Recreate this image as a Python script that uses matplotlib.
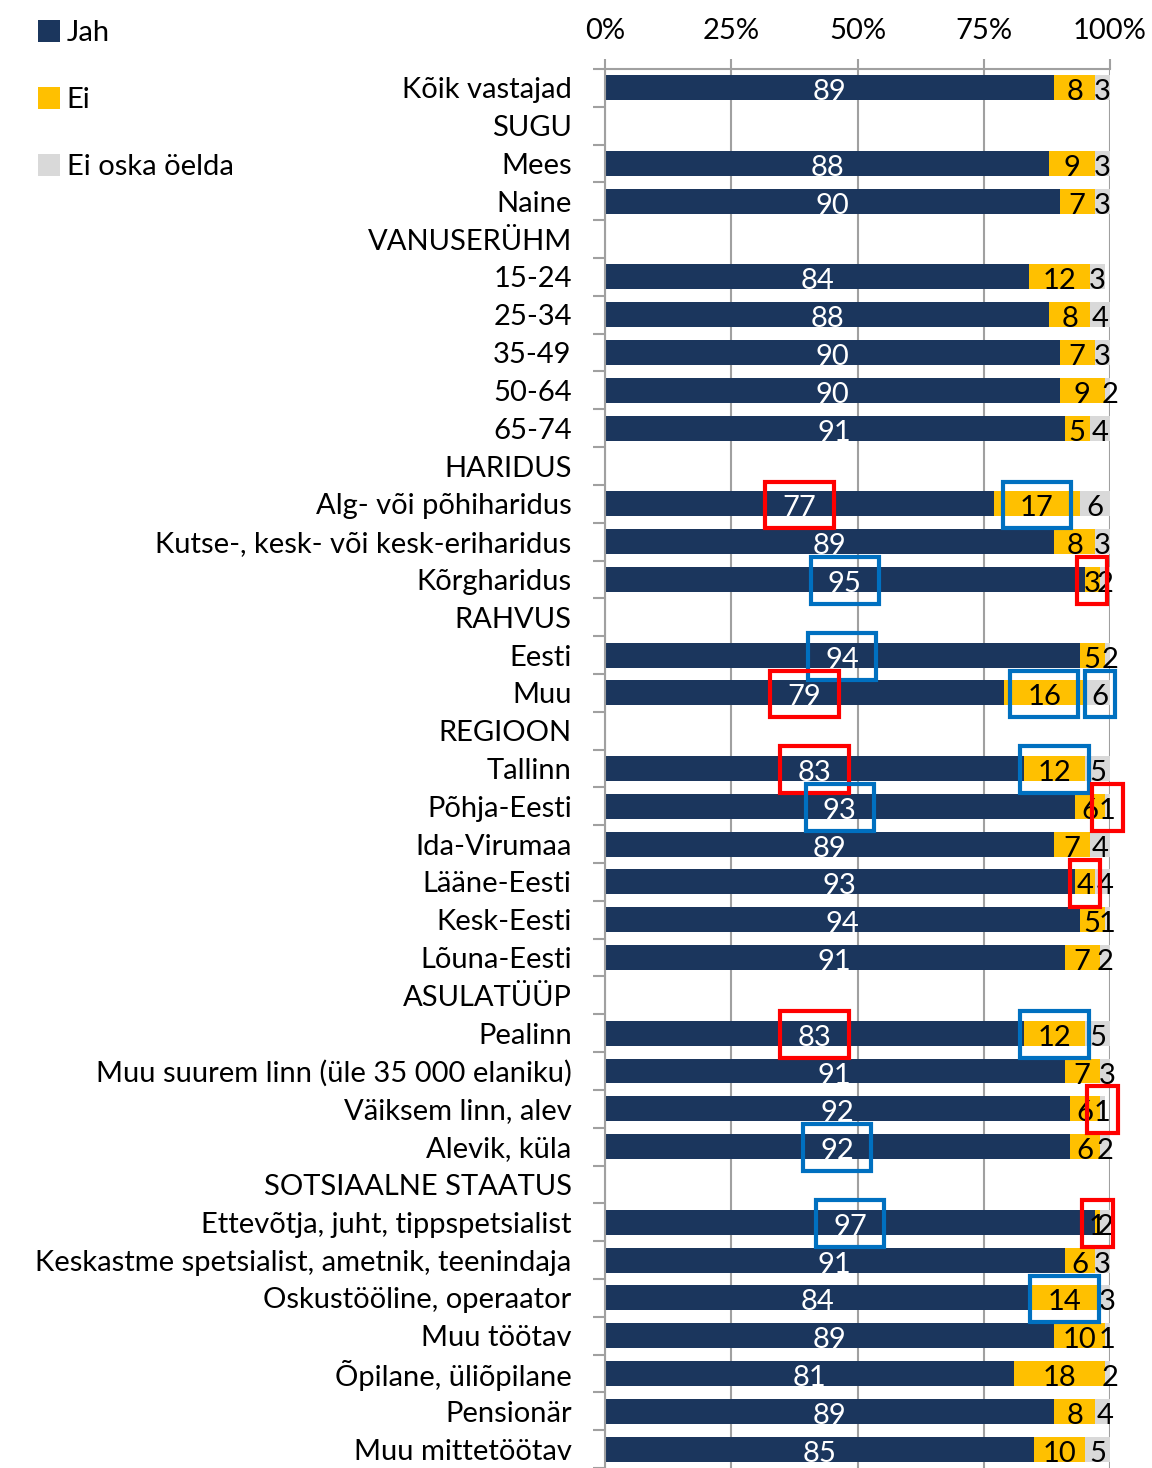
import numpy as np
import matplotlib.pyplot as plt
from matplotlib.patches import Rectangle

plt.rcParams['font.family'] = ['Lato', 'DejaVu Sans']

categories = [
    "Kõik vastajad", "SUGU", "Mees", "Naine", "VANUSERÜHM",
    "15-24", "25-34", "35-49", "50-64", "65-74", "HARIDUS",
    "Alg- või põhiharidus", "Kutse-, kesk- või kesk-eriharidus", "Kõrgharidus",
    "RAHVUS", "Eesti", "Muu", "REGIOON",
    "Tallinn", "Põhja-Eesti", "Ida-Virumaa", "Lääne-Eesti", "Kesk-Eesti", "Lõuna-Eesti",
    "ASULATÜÜP", "Pealinn", "Muu suurem linn (üle 35 000 elaniku)",
    "Väiksem linn, alev", "Alevik, küla", "SOTSIAALNE STAATUS",
    "Ettevõtja, juht, tippspetsialist", "Keskastme spetsialist, ametnik, teenindaja",
    "Oskustööline, operaator", "Muu töötav", "Õpilane, üliõpilane", "Pensionär",
    "Muu mittetöötav",
]
# None = group header row (no bar)
jah = [89, None, 88, 90, None, 84, 88, 90, 90, 91, None, 77, 89, 95, None, 94, 79, None,
       83, 93, 89, 93, 94, 91, None, 83, 91, 92, 92, None, 97, 91, 84, 89, 81, 89, 85]
ei = [8, None, 9, 7, None, 12, 8, 7, 9, 5, None, 17, 8, 3, None, 5, 16, None,
      12, 6, 7, 4, 5, 7, None, 12, 7, 6, 6, None, 1, 6, 14, 10, 18, 8, 10]
eos = [3, None, 3, 3, None, 3, 4, 3, 2, 4, None, 6, 3, 2, None, 2, 6, None,
       5, 1, 4, 4, 1, 2, None, 5, 3, 1, 2, None, 2, 3, 3, 1, 2, 4, 5]
series_names = ["Jah", "Ei", "Ei oska öelda"]

# significant differences: (category, series index, colour)
highlights = [
    ("Alg- või põhiharidus", 0, "red"), ("Alg- või põhiharidus", 1, "blue"),
    ("Kõrgharidus", 0, "blue"), ("Kõrgharidus", 1, "red"),
    ("Eesti", 0, "blue"),
    ("Muu", 0, "red"), ("Muu", 1, "blue"), ("Muu", 2, "blue"),
    ("Tallinn", 0, "red"), ("Tallinn", 1, "blue"),
    ("Põhja-Eesti", 0, "blue"), ("Põhja-Eesti", 2, "red"),
    ("Lääne-Eesti", 1, "red"),
    ("Pealinn", 0, "red"), ("Pealinn", 1, "blue"),
    ("Väiksem linn, alev", 2, "red"),
    ("Alevik, küla", 0, "blue"),
    ("Ettevõtja, juht, tippspetsialist", 0, "blue"),
    ("Ettevõtja, juht, tippspetsialist", 1, "red"),
    ("Oskustööline, operaator", 1, "blue"),
]

colors = ['#1B365D', '#FFC000', '#D9D9D9']
text_colors = ['white', 'black', 'black']
box_colors = {"red": "#FF0000", "blue": "#0070C0"}
FS = 21

W, H = 1152, 1468
fig = plt.figure(figsize=(W / 100, H / 100), dpi=100)
ax = fig.add_axes([605 / W, 0, 505 / W, (H - 69) / H])

idx = [i for i, v in enumerate(jah) if v is not None]
y = np.array(idx)
vals = [np.array([s[i] for i in idx], dtype=float) for s in (jah, ei, eos)]

left = np.zeros(len(idx))
bars = []
for k in range(3):
    b = ax.barh(y, vals[k], left=left, height=0.66, color=colors[k], label=series_names[k])
    bars.append(b)
    for yy, l, v in zip(y, left, vals[k]):
        ax.text(l + v / 2, yy + 0.12, f"{v:.0f}", ha='center', va='center',
                fontsize=FS, color=text_colors[k])
    left = left + vals[k]

# highlight boxes
for cat, k, c in highlights:
    i = categories.index(cat)
    seg = [jah[i], ei[i], eos[i]]
    cx = sum(seg[:k]) + seg[k] / 2
    w = 13.5 if seg[k] >= 10 else 6.0
    ax.add_patch(Rectangle((cx - w / 2, i + 0.03 - 0.62), w, 1.24, fill=False,
                           edgecolor=box_colors[c], linewidth=3, zorder=5, clip_on=False))

ax.set_xlim(0, 100)
ax.set_ylim(36.32, -0.5)
ax.set_yticks(np.arange(len(categories)))
ax.set_yticklabels(categories, fontsize=FS)
ax.set_yticks(np.arange(-0.5, len(categories), 1), minor=True)
ax.tick_params(axis='y', which='major', length=0, pad=24)
ax.tick_params(axis='y', which='minor', length=9, width=1.5, color='#A0A0A0')

ax.xaxis.tick_top()
ax.set_xticks([0, 25, 50, 75, 100])
ax.set_xticklabels(["0%", "25%", "50%", "75%", "100%"], fontsize=FS)
ax.tick_params(axis='x', length=7, width=1.5, color='#A0A0A0', pad=11)
ax.grid(axis='x', color='#A0A0A0', linewidth=1.5)
ax.set_axisbelow(True)

for side in ['bottom', 'right']:
    ax.spines[side].set_visible(False)
for side in ['left', 'top']:
    ax.spines[side].set_color('#A0A0A0')
    ax.spines[side].set_linewidth(1.5)

fig.legend(handles=bars, labels=series_names, loc='upper left',
           bbox_to_anchor=(26 / W, 1 - 8 / H), frameon=False, fontsize=FS,
           handlelength=0.78, handleheight=0.78, handletextpad=0.22,
           labelspacing=1.4, borderaxespad=0)

fig.savefig("out.png", dpi=100)
